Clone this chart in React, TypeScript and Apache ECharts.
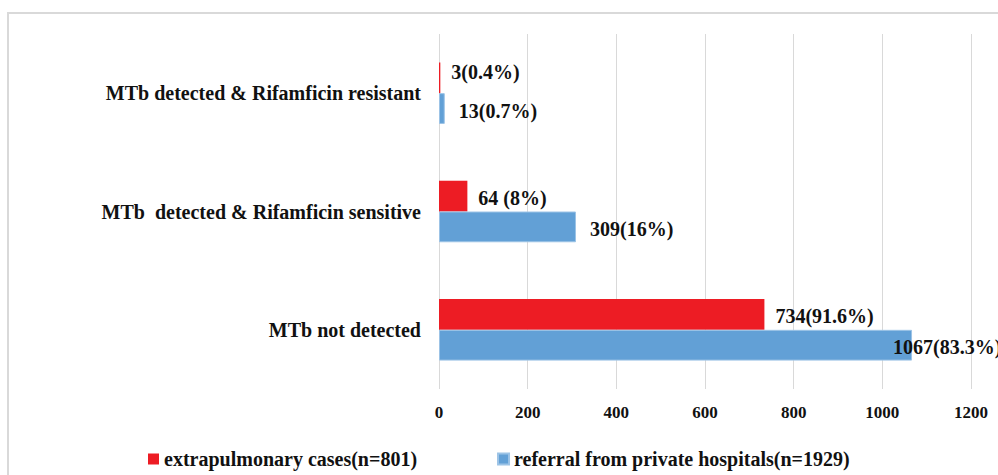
import React, { useEffect, useRef } from "react";
import * as echarts from "echarts";

const categories = [
  "MTb not detected",
  "MTb  detected & Rifamficin sensitive",
  "MTb detected & Rifamficin resistant",
];
const seriesNames = [
  "extrapulmonary cases(n=801)",
  "referral from private hospitals(n=1929)",
];
const extraValues = [734, 64, 3];
const extraLabels = ["734(91.6%)", "64 (8%)", "3(0.4%)"];
const referralValues = [1067, 309, 13];
const referralLabels = ["1067(83.3%)", "309(16%)", "13(0.7%)"];
const xTicks = [0, 200, 400, 600, 800, 1000, 1200];

const FONT = "'Liberation Serif', 'Times New Roman', serif";

export default function App() {
  const ref = useRef<HTMLDivElement>(null);
  useEffect(() => {
    const chart = echarts.init(ref.current!, null, { renderer: "svg" });
    const labelStyle = {
      show: true,
      position: "right",
      distance: 11,
      fontFamily: FONT,
      fontWeight: "bold",
      fontSize: 20,
      color: "#111",
    };
    chart.setOption({
      animation: false,
      backgroundColor: "#fff",
      graphic: [
        {
          type: "rect",
          shape: { x: 8, y: 13, width: 1000, height: 480 },
          style: { fill: "none", stroke: "#d9d9d9", lineWidth: 2 },
          silent: true,
        },
      ],
      grid: { left: 439, right: 27, top: 34, bottom: 86 },
      legend: {
        bottom: 1,
        left: 143,
        itemWidth: 11,
        itemHeight: 11,
        itemGap: 80,
        icon: "rect",
        textStyle: { fontFamily: FONT, fontWeight: "bold", fontSize: 20, color: "#111" },
        data: seriesNames,
      },
      xAxis: {
        type: "value",
        min: xTicks[0],
        max: xTicks[xTicks.length - 1],
        interval: 200,
        axisLine: { show: false },
        axisTick: { show: false },
        splitLine: { lineStyle: { color: "#d9d9d9", width: 1 } },
        axisLabel: {
          margin: 15,
          fontFamily: FONT,
          fontWeight: "bold",
          fontSize: 17,
          color: "#111",
          formatter: (v: number) => String(v),
        },
      },
      yAxis: {
        type: "category",
        data: categories,
        axisLine: { show: false },
        axisTick: { show: false },
        axisLabel: {
          margin: 18,
          fontFamily: FONT,
          fontWeight: "bold",
          fontSize: 20,
          color: "#111",
        },
      },
      series: [
        {
          name: seriesNames[0],
          type: "bar",
          barGap: "0%",
          barCategoryGap: "48%",
          itemStyle: { color: "#ed1c24" },
          data: extraValues.map((v, i) => ({
            value: v,
            label: i === 2 ? { offset: [0, -6] } : { offset: [0, 2] },
          })),
          label: { ...labelStyle, formatter: (p: any) => extraLabels[p.dataIndex] },
        },
        {
          name: seriesNames[1],
          type: "bar",
          barGap: "0%",
          barCategoryGap: "48%",
          itemStyle: { color: "#62a0d6", borderColor: "#9cc3e6", borderWidth: 1 },
          data: referralValues.map((v, i) => ({
            value: v,
            label: i === 0 ? { offset: [-30, 2] } : { offset: [3, 2] },
          })),
          label: { ...labelStyle, formatter: (p: any) => referralLabels[p.dataIndex] },
        },
      ],
    });
    return () => chart.dispose();
  }, []);
  return (
    <div
      ref={ref}
      style={{ position: "fixed", left: 0, top: 0, width: 998, height: 475 }}
    />
  );
}
